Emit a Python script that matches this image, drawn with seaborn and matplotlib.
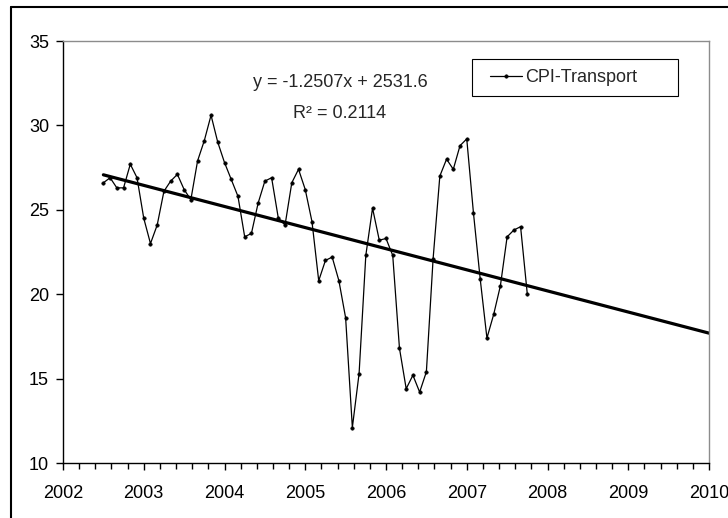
import numpy as np
import pandas as pd
import seaborn as sns
import matplotlib.pyplot as plt
from matplotlib.lines import Line2D
from matplotlib.patches import Rectangle
from matplotlib.ticker import MultipleLocator, FormatStrFormatter

# monthly CPI - transport, from July 2002
cpi_transport = [26.6, 26.9, 26.3, 26.3, 27.7, 26.9, 24.5, 23.0, 24.1, 26.1,
                 26.7, 27.1, 26.2, 25.6, 27.9, 29.1, 30.6, 29.0, 27.8, 26.8,
                 25.8, 23.4, 23.6, 25.4, 26.7, 26.9, 24.5, 24.1, 26.6, 27.4,
                 26.2, 24.3, 20.8, 22.0, 22.2, 20.8, 18.6, 12.1, 15.3, 22.3,
                 25.1, 23.2, 23.3, 22.3, 16.8, 14.4, 15.2, 14.2, 15.4, 22.1,
                 27.0, 28.0, 27.4, 28.8, 29.2, 24.8, 20.9, 17.4, 18.8, 20.5,
                 23.4, 23.8, 24.0, 20.0]
start_year = 2002.5

# linear trendline shown on the chart
trend_slope = -1.2507
trend_intercept = 2531.6
trend_r2 = 0.2114
trend_span = [2002.5, 2010]

years = start_year + np.arange(len(cpi_transport)) / 12
df = pd.DataFrame({'year': years, 'cpi': cpi_transport})
tx = np.array(trend_span)
trend_df = pd.DataFrame({'year': tx, 'fit': trend_slope * tx + trend_intercept})

sns.set_theme(style='white')
plt.rcParams['font.family'] = ['Liberation Sans', 'DejaVu Sans']

fig = plt.figure(figsize=(7.28, 5.18), dpi=100)
ax = fig.add_axes([63 / 728, 1 - 463 / 518, 646 / 728, 422 / 518])

sns.lineplot(data=df, x='year', y='cpi', ax=ax, color='black', lw=0.9,
             marker='o', markersize=2.5, mec='black', mew=0.4, sort=False,
             label='CPI-Transport')
sns.lineplot(data=trend_df, x='year', y='fit', ax=ax, color='black', lw=2.3,
             legend=False)

ax.set_xlim(2002, 2010)
ax.set_ylim(10, 35)
ax.xaxis.set_major_locator(MultipleLocator(1))
ax.xaxis.set_minor_locator(MultipleLocator(0.2))
ax.xaxis.set_major_formatter(FormatStrFormatter('%d'))
ax.yaxis.set_major_locator(MultipleLocator(5))
ax.set_xlabel('')
ax.set_ylabel('')
ax.tick_params(axis='both', which='major', direction='out', length=5, width=1,
               color='black', labelsize=13, labelcolor='black')
ax.tick_params(axis='x', which='minor', direction='out', length=4, width=1,
               color='black', bottom=True)
ax.tick_params(axis='x', which='major', pad=11, bottom=True)
ax.tick_params(axis='y', which='major', pad=5, left=True)

for s in ['top', 'right']:
    ax.spines[s].set_color('#8c8c8c')
    ax.spines[s].set_linewidth(1)
for s in ['left', 'bottom']:
    ax.spines[s].set_color('black')
    ax.spines[s].set_linewidth(1)

ax.text(2005.43, 32.57, f'y = {trend_slope}x + {trend_intercept}', ha='center',
        va='center', fontsize=13)
ax.text(2005.43, 30.73, f'R\u00b2 = {trend_r2}', ha='center', va='center',
        fontsize=13)

# legend box (Excel style, wider than its content)
ax.add_patch(Rectangle((472 / 728, 1 - 96 / 518), 206 / 728, 37 / 518,
                       transform=fig.transFigure, facecolor='white',
                       edgecolor='black', lw=0.8, clip_on=False, zorder=4))
leg = ax.legend(handles=[ax.lines[0]], labels=['CPI-Transport'],
                loc='center left',
                bbox_to_anchor=(490 / 728, 1 - 77.5 / 518),
                bbox_transform=fig.transFigure, frameon=False, fontsize=13,
                handlelength=1.75, handletextpad=0.2, borderpad=0,
                borderaxespad=0)
leg.set_zorder(5)

# chart area border
fig.add_artist(Line2D([11 / 728, 1], [1 - 7 / 518, 1 - 7 / 518],
                      transform=fig.transFigure, color='black', lw=1.5))
fig.add_artist(Line2D([11 / 728, 11 / 728], [0, 1 - 7 / 518],
                      transform=fig.transFigure, color='black', lw=1.5))

fig.savefig('out.png', dpi=100)
